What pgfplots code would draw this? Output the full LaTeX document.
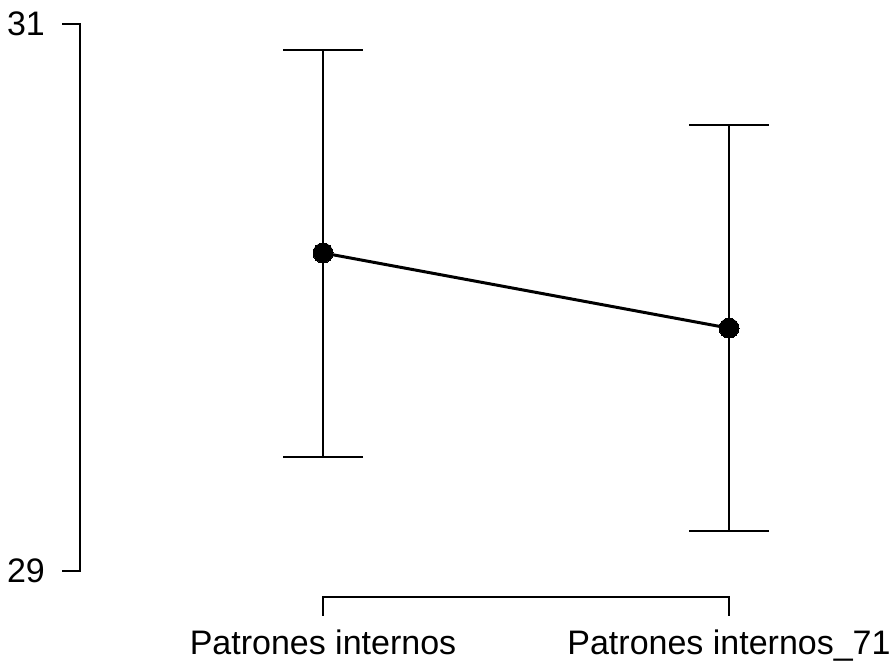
\documentclass[border=0pt]{standalone}
\usepackage{pgfplots}
\pgfplotsset{compat=1.18}
\usepackage{fontspec}
\setmainfont{Liberation Sans}
\begin{document}
\begin{tikzpicture}
\begin{axis}[
  scale only axis, width=892pt, height=664pt,
  xmin=-0.7956, xmax=1.4015, ymin=28.660, ymax=31.0878,
  axis lines=none, clip=false,
]
\path (rel axis cs:0,0) rectangle (rel axis cs:1,1);
% axes
\draw[line width=2.2pt, line cap=rect] (axis cs:-0.6404,31) -- (axis cs:-0.5985,31) -- (axis cs:-0.5985,29) -- (axis cs:-0.6404,29);
\draw[line width=2.2pt, line cap=rect] (axis cs:0,28.839) -- (axis cs:0,28.905) -- (axis cs:1,28.905) -- (axis cs:1,28.839);
\node[anchor=east, inner sep=0pt, font=\fontsize{34}{40}\selectfont] at (axis cs:-0.6847,31) {31};
\node[anchor=east, inner sep=0pt, font=\fontsize{34}{40}\selectfont] at (axis cs:-0.6847,29) {29};
\node[anchor=base, inner sep=0pt, font=\fontsize{34}{40}\selectfont] at (axis cs:0,28.693) {Patrones internos};
\node[anchor=base, inner sep=0pt, font=\fontsize{34}{40}\selectfont] at (axis cs:1,28.693) {Patrones internos\_71};
% error bars
\addplot[draw=none, mark=none, line width=2.2pt,
  error bars/.cd, y dir=both, y explicit,
  error bar style={line width=2.2pt, black},
  error mark options={rotate=90, mark size=40pt, line width=2.2pt, black}]
  coordinates {
    (0,30.163) +=(0,0.742) -=(0,0.746)
    (1,29.888) +=(0,0.743) -=(0,0.742)
  };
% means
\addplot[black, line width=3pt, mark=*, mark size=10pt, mark options={fill=black, line width=0pt}]
  coordinates {(0,30.163) (1,29.888)};
\end{axis}
\end{tikzpicture}
\end{document}
